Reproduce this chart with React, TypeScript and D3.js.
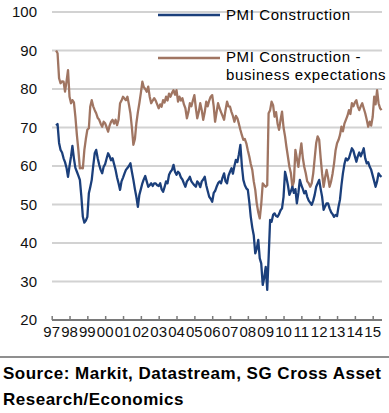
import React, { useEffect, useRef } from "react";
import * as d3 from "d3";

// monthly values, April 1997 .. July 2015
const startMonth = new Date(1997, 3, 1);

const pmiConstruction = [
  70.5, 70.9, 66, 64.2, 63.5, 62, 61, 59.5, 57.2,
  60, 62.5, 65.2, 62, 59.5, 58.5, 57.5, 56.4, 52, 46.8, 45.3, 45.8,
  46.8, 52.9, 54.5, 56.4, 60, 63.3, 64.2, 62, 60.3, 59, 58.1, 59.8,
  60.5, 62, 63.3, 62.5, 61.5, 62, 60.5, 59, 57, 55.5, 53.8, 56,
  57, 58.1, 59, 59.5, 60, 60.7, 58.5, 56.4, 54, 52, 49.4, 52.5,
  54, 55.5, 56.5, 57.4, 56, 54.6, 55, 55.5, 54.8, 55.5, 55.5, 55,
  54.8, 55.5, 54, 53.3, 54.5, 56, 55.5, 57.7, 58.5, 59, 60.3, 58.5,
  57.7, 58.5, 58.1, 57, 56.5, 55.5, 54.6, 56, 56.5, 57.2, 56, 55.5,
  55, 54.6, 56, 55.5, 54.5, 56, 56.5, 57.2, 55, 53.5, 52, 51.5,
  50.7, 53, 53.5, 54.6, 55.5, 56, 55.5, 57, 58.1, 56, 55.5, 57.5,
  58.5, 59.4, 58, 60, 61.6, 61, 63, 65.5, 60, 56.4, 55, 54.2,
  53.8, 50.5, 46.8, 44, 42, 37.3, 38.5, 40.8, 36, 34.7, 29.1, 31,
  33.8, 27.8, 36, 46, 45.5, 47.3, 47.7, 47, 46.8, 47.5, 48.5, 49,
  52, 58.5, 57, 55, 52.5, 53.5, 54.6, 53, 54, 50.3, 53, 56.4,
  55, 54, 52.9, 53.5, 52, 51, 50.5, 49.9, 51, 52.5, 54.6, 55.5,
  56.4, 54, 52, 48.6, 49.5, 50.3, 50.3, 49, 48, 47.5, 46.8, 47.3,
  47, 49.5, 51.2, 55, 58.1, 60.5, 62, 61.5, 62, 63.3, 64.6, 64,
  62.5, 61.1, 62.5, 63.5, 62.5, 63.5, 64.6, 62, 60.7, 61, 59.8, 59,
  57.5, 56, 54.6, 56, 58.1, 57.5, 57.2,
];

const businessExpectations = [
  90, 89.3, 82.8, 81.5, 82, 81.9, 79.3, 82, 84.9,
  78, 76.3, 77.1, 76.5, 72.8, 68, 64.2, 59.4, 59.5, 59.4, 64.2, 67,
  69.4, 69.8, 75.4, 77.1, 75.5, 74.5, 73.7, 72.5, 72, 71, 70.2, 71.5,
  71.1, 70, 68.9, 70.5, 71.5, 72, 71, 72, 70.6, 72, 76.3, 77,
  78, 77.5, 77.1, 78, 76, 73.7, 70, 65.5, 67, 71.1, 74, 76.3,
  79, 81.9, 80.5, 80, 79.3, 80.6, 78, 76.3, 77, 77.6, 77, 76,
  75, 76, 75.4, 77.1, 76.5, 78, 77, 78.8, 78, 79, 79.7, 78.5,
  79.7, 76.7, 78, 77, 77.6, 76, 75, 72.4, 74, 76.3, 75.5, 77,
  78.4, 75, 72.4, 74, 76.3, 74.5, 72, 74, 76.7, 75.5, 77, 78,
  78.4, 75.5, 71.5, 74, 76.3, 75, 74, 73, 72, 74.5, 76.7, 75.5,
  75.4, 74, 73, 71.5, 73, 72.4, 71, 69.4, 68, 66.8, 67, 65.9,
  64, 62.4, 60.5, 59, 56, 53.8, 50.3, 48, 46.4, 50, 55.5, 55,
  54.6, 55, 73.7, 74.5, 76.7, 75.8, 72.8, 74, 71, 69.4, 72, 74.1,
  70, 67.7, 65, 62.4, 59.8, 58.1, 54.6, 56, 64.2, 62, 59.8, 63,
  65.9, 62, 59.8, 58.1, 56, 55.5, 54.6, 55.5, 58.1, 62, 66, 67.7,
  66.8, 62, 58, 54.6, 57, 59, 57, 54.6, 56, 58, 60.7, 64,
  65.9, 66.8, 68, 70.2, 69, 71, 72, 73, 74.5, 73.5, 76.3, 75.5,
  76.5, 77.1, 75.5, 74.5, 75.5, 76.3, 75, 73.7, 72, 70.2, 71.5, 70.5,
  72.8, 78, 76, 79.7, 76.3, 75, 74.5,
];

const yTicks = [20, 30, 40, 50, 60, 70, 80, 90, 100];
const legendLabels = ["PMI Construction", "PMI Construction -", "business expectations"];
const sourceLines = ["Source: Markit, Datastream, SG Cross Asset", "Research/Economics"];

const blue = "#1b3f7b";
const brown = "#a07562";
const font = "'Liberation Sans', Arial, sans-serif";

function App() {
  const ref = useRef<SVGSVGElement | null>(null);
  const width = 389;
  const height = 413;

  useEffect(() => {
    const svg = d3.select(ref.current);
    svg.selectAll("*").remove();
    svg.attr("width", width).attr("height", height).style("font-family", font);

    const x = d3
      .scaleTime()
      .domain([new Date(1997, 0, 1), new Date(2015, 0, 1)])
      .range([51.7, 372.7]);
    const y = d3.scaleLinear().domain([20, 100]).range([320, 12]);

    // gridlines
    svg
      .append("g")
      .selectAll("line")
      .data(yTicks.filter((d) => d > 20))
      .join("line")
      .attr("x1", 52)
      .attr("x2", 382)
      .attr("y1", (d) => y(d))
      .attr("y2", (d) => y(d))
      .attr("stroke", "#d2d2d2")
      .attr("stroke-width", 2);

    // y labels
    svg
      .append("g")
      .selectAll("text")
      .data(yTicks)
      .join("text")
      .attr("x", 37)
      .attr("y", (d) => y(d))
      .attr("dy", "0.35em")
      .attr("text-anchor", "end")
      .attr("font-size", 15)
      .attr("fill", "#111")
      .text((d) => d);

    // x axis
    const xAxis = svg
      .append("g")
      .attr("transform", `translate(0,${y(20)})`)
      .call(
        d3
          .axisTop(x)
          .ticks(d3.timeYear.every(1))
          .tickSize(4)
          .tickSizeOuter(0)
          .tickFormat(() => "")
      );
    xAxis.select(".domain").attr("stroke", "#7a7a7a").attr("stroke-width", 2).attr("d", `M52,0H382`);
    xAxis.selectAll(".tick line").attr("stroke", "#7a7a7a").attr("stroke-width", 1.5);

    const years = x.ticks(d3.timeYear.every(1));
    svg
      .append("g")
      .selectAll("text")
      .data(years)
      .join("text")
      .attr("x", (d) => x(d))
      .attr("y", 337)
      .attr("text-anchor", "middle")
      .attr("font-size", 15)
      .attr("fill", "#111")
      .text((d) => d3.timeFormat("%y")(d));

    const line = d3
      .line<number>()
      .x((_, i) => x(d3.timeMonth.offset(startMonth, i)))
      .y((d) => y(d));

    svg
      .append("path")
      .attr("fill", "none")
      .attr("stroke", brown)
      .attr("stroke-width", 2.3)
      .attr("stroke-linejoin", "round")
      .attr("d", line(businessExpectations));

    svg
      .append("path")
      .attr("fill", "none")
      .attr("stroke", blue)
      .attr("stroke-width", 2.3)
      .attr("stroke-linejoin", "round")
      .attr("d", line(pmiConstruction));

    // legend
    const legend = svg.append("g").attr("font-size", 15).attr("letter-spacing", 0.6);
    legend.append("line").attr("x1", 158).attr("x2", 220).attr("y1", 15).attr("y2", 15).attr("stroke", blue).attr("stroke-width", 2.3);
    legend.append("line").attr("x1", 158).attr("x2", 220).attr("y1", 58).attr("y2", 58).attr("stroke", brown).attr("stroke-width", 2.3);
    legend
      .selectAll("text")
      .data(legendLabels)
      .join("text")
      .attr("x", 226)
      .attr("y", (_, i) => [15, 57, 75][i])
      .attr("dy", "0.35em")
      .attr("fill", "#000")
      .text((d) => d);

    // source
    svg
      .append("line")
      .attr("x1", 0)
      .attr("x2", width)
      .attr("y1", 357)
      .attr("y2", 357)
      .attr("stroke", "#6a6a6a")
      .attr("stroke-width", 1.5);
    svg
      .append("g")
      .selectAll("text")
      .data(sourceLines)
      .join("text")
      .attr("x", 3)
      .attr("y", (_, i) => [379, 405][i])
      .attr("font-size", 17)
      .attr("font-weight", "bold")
      .attr("letter-spacing", 0.5)
      .attr("fill", "#000")
      .text((d) => d);
  }, []);

  return (
    <div style={{ position: "absolute", left: 0, top: 0 }}>
      <svg ref={ref}></svg>
    </div>
  );
}

export default App;
